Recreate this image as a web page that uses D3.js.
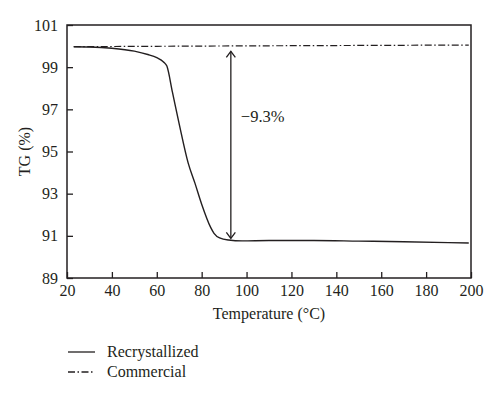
<!DOCTYPE html>
<html>
<head>
<meta charset="utf-8">
<script src="https://cdn.jsdelivr.net/npm/d3@7"></script>
<style>
  body { margin: 0; background: #fff; }
  svg text { font-family: "Liberation Serif", "DejaVu Serif", serif; fill: #231f20; }
</style>
</head>
<body>
<div id="chart"></div>
<script>
// recrystallized sample
const tempRecryst = [23, 30, 40, 50, 56, 60, 63, 64.5, 67, 70, 74, 77, 80, 84, 85.5, 88, 92, 98, 110, 130, 150, 170, 190, 199];
const tgRecryst   = [99.97, 99.96, 99.9, 99.76, 99.6, 99.45, 99.25, 99.05, 97.8, 96.3, 94.45, 93.5, 92.5, 91.4, 91.12, 90.9, 90.8, 90.76, 90.78, 90.78, 90.75, 90.72, 90.68, 90.66];

// commercial sample
const tempCommercial = [23, 60, 100, 150, 199];
const tgCommercial   = [99.97, 99.99, 100.01, 100.03, 100.05];

const xTicks = [20, 40, 60, 80, 100, 120, 140, 160, 180, 200];
const yTicks = [89, 91, 93, 95, 97, 99, 101];

// mass loss annotation
const arrowTemp = 93;
const arrowTop = 99.75;
const arrowBottom = 90.88;
const lossLabel = "\u22129.3%";

const seriesNames = ["Recrystallized", "Commercial"];

const width = 500, height = 398;
const margin = { top: 25, left: 67, w: 404, h: 253 };
const ink = "#231f20";
const dashDot = "7,2.5,1.5,2.5";

const svg = d3.select("#chart").append("svg")
  .attr("width", width).attr("height", height);

const g = svg.append("g")
  .attr("transform", `translate(${margin.left},${margin.top})`);

const x = d3.scaleLinear().domain([20, 200]).range([0, margin.w]);
const y = d3.scaleLinear().domain([89, 101]).range([margin.h, 0]);

const xAxis = g.append("g")
  .attr("transform", `translate(0,${margin.h})`)
  .call(d3.axisBottom(x).tickValues(xTicks).tickSizeInner(-6).tickSizeOuter(0).tickPadding(7));
const yAxis = g.append("g")
  .call(d3.axisLeft(y).tickValues(yTicks).tickSizeInner(-6).tickSizeOuter(0).tickPadding(9));

[xAxis, yAxis].forEach(a => {
  a.select(".domain").remove();
  a.selectAll("line").attr("stroke", ink).attr("stroke-width", 1.3);
  a.selectAll("text").style("font-size", "16px").attr("fill", ink);
});

// frame
g.append("rect")
  .attr("width", margin.w).attr("height", margin.h)
  .attr("fill", "none").attr("stroke", ink).attr("stroke-width", 1.5);

const line = d3.line().x(d => x(d[0])).y(d => y(d[1])).curve(d3.curveMonotoneX);

g.append("path")
  .datum(d3.zip(tempCommercial, tgCommercial))
  .attr("fill", "none").attr("stroke", ink).attr("stroke-width", 1.2)
  .attr("stroke-dasharray", dashDot)
  .attr("d", line);

g.append("path")
  .datum(d3.zip(tempRecryst, tgRecryst))
  .attr("fill", "none").attr("stroke", ink).attr("stroke-width", 1.4)
  .attr("d", line);

// double arrow
const ax = x(arrowTemp);
g.append("line")
  .attr("x1", ax).attr("x2", ax)
  .attr("y1", y(arrowTop)).attr("y2", y(arrowBottom))
  .attr("stroke", ink).attr("stroke-width", 1.3);
g.append("path")
  .attr("d", `M${ax - 4.5},${y(arrowTop) + 6}L${ax},${y(arrowTop)}L${ax + 4.5},${y(arrowTop) + 6}`)
  .attr("fill", "none").attr("stroke", ink).attr("stroke-width", 1.3);
g.append("path")
  .attr("d", `M${ax - 4.5},${y(arrowBottom) - 6}L${ax},${y(arrowBottom)}L${ax + 4.5},${y(arrowBottom) - 6}`)
  .attr("fill", "none").attr("stroke", ink).attr("stroke-width", 1.3);

g.append("text")
  .attr("x", ax + 10).attr("y", 97)
  .style("font-size", "16.5px")
  .text(lossLabel);

// axis titles
svg.append("text")
  .attr("transform", `translate(30,${margin.top + margin.h / 2}) rotate(-90)`)
  .attr("text-anchor", "middle")
  .style("font-size", "16px")
  .text("TG (%)");

svg.append("text")
  .attr("x", margin.left + margin.w / 2).attr("y", 319)
  .attr("text-anchor", "middle")
  .style("font-size", "16px")
  .text("Temperature (\u00b0C)");

// legend
const legend = svg.append("g").attr("transform", "translate(68,352)");
seriesNames.forEach((name, i) => {
  const row = legend.append("g").attr("transform", `translate(0,${i * 20})`);
  row.append("line")
    .attr("x1", 0).attr("x2", 27)
    .attr("stroke", ink).attr("stroke-width", 1.3)
    .attr("stroke-dasharray", i === 1 ? dashDot : null);
  row.append("text")
    .attr("x", 39).attr("y", 5)
    .style("font-size", "16px")
    .text(name);
});
</script>
</body>
</html>
